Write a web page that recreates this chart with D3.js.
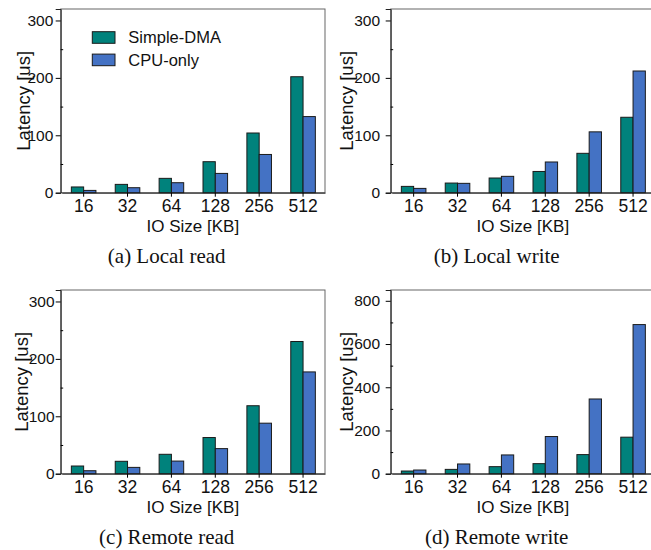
<!DOCTYPE html>
<html>
<head>
<meta charset="utf-8">
<script src="https://cdn.jsdelivr.net/npm/d3@7"></script>
<style>
  body { margin: 0; background: #fff; }
  text { font-family: "Liberation Sans", Arial, sans-serif; fill: #111; }
  .caption { font-family: "Liberation Serif", "Times New Roman", serif; }
</style>
</head>
<body>
<div id="chart"></div>
<script>
var sizes = ["16", "32", "64", "128", "256", "512"];
var seriesNames = ["Simple-DMA", "CPU-only"];

var localReadDMA = [10, 14.5, 25, 54, 104, 202];
var localReadCPU = [4, 8.7, 17.4, 33.6, 66.6, 132.6];
var localWriteDMA = [11, 16.8, 25.6, 37, 68.6, 131.4];
var localWriteCPU = [7.5, 16.3, 28.5, 53.5, 106, 212];
var remoteReadDMA = [13.4, 21.6, 33.8, 63, 118.4, 230.3];
var remoteReadCPU = [5.2, 11, 22, 43.7, 88, 177.3];
var remoteWriteDMA = [12.4, 20, 32.6, 46.5, 88.4, 169];
var remoteWriteCPU = [17, 45, 86.8, 172, 345.7, 690];

var ticksSmall = [0, 100, 200, 300];
var minorSmall = [50, 150, 250];
var ticksBig = [0, 200, 400, 600, 800];
var minorBig = [100, 300, 500, 700];

var captions = ["(a) Local read", "(b) Local write", "(c) Remote read", "(d) Remote write"];

var colors = ["#00827c", "#4472c4"];

function init() {
    var width = 651, height = 550;

    var svg = d3.select("#chart")
        .append("svg")
        .attr("width", width)
        .attr("height", height);

    var panels = [
        { left: 60.7, top: 9, dma: localReadDMA, cpu: localReadCPU, max: 320, ticks: ticksSmall, minor: minorSmall, labelOff: 30.7, tickPad: 2.4, legend: true },
        { left: 390.7, top: 9, dma: localWriteDMA, cpu: localWriteCPU, max: 320, ticks: ticksSmall, minor: minorSmall, labelOff: 37.5, tickPad: 5.7 },
        { left: 60.7, top: 290, dma: remoteReadDMA, cpu: remoteReadCPU, max: 320, ticks: ticksSmall, minor: minorSmall, labelOff: 32.4, tickPad: 1.2 },
        { left: 390.7, top: 290, dma: remoteWriteDMA, cpu: remoteWriteCPU, max: 850, ticks: ticksBig, minor: minorBig, labelOff: 37.5, tickPad: 5.7 }
    ];
    var pw = 264.3, ph = 183.7;

    panels.forEach(function (p, i) {
        var g = svg.append("g")
            .attr("transform", "translate(" + p.left + "," + p.top + ")");

        var x = d3.scaleBand()
            .domain(sizes)
            .range([1, pw])
            .paddingInner(0.44)
            .paddingOuter(0.22);

        var x1 = d3.scaleBand()
            .domain(seriesNames)
            .range([0, x.bandwidth()]);

        var y = d3.scaleLinear()
            .domain([0, p.max])
            .range([ph, 0]);

        // frame (top/right)
        g.append("rect")
            .attr("width", pw)
            .attr("height", ph)
            .style("fill", "none")
            .style("stroke", "#666")
            .style("stroke-width", 1);

        // bars
        var groups = g.selectAll(".grp")
            .data(sizes)
            .enter()
            .append("g")
            .attr("transform", function (d) { return "translate(" + x(d) + ",0)"; });

        groups.selectAll("rect")
            .data(function (d, j) { return [p.dma[j], p.cpu[j]]; })
            .enter()
            .append("rect")
            .attr("x", function (d, k) { return x1(seriesNames[k]); })
            .attr("y", function (d) { return y(d); })
            .attr("width", x1.bandwidth())
            .attr("height", function (d) { return ph - y(d); })
            .style("fill", function (d, k) { return colors[k]; })
            .style("stroke", "#1a1a1a")
            .style("stroke-width", 1);

        // y axis
        var yAxis = g.append("g")
            .call(d3.axisLeft(y).tickValues(p.ticks).tickSize(5).tickPadding(p.tickPad).tickFormat(d3.format("d")));
        yAxis.select(".domain").attr("stroke", "#222");
        yAxis.selectAll("text").style("font-size", "15.5px");

        g.append("g")
            .call(d3.axisRight(y).tickValues(p.minor).tickSize(2.5).tickFormat(""))
            .call(function (a) { a.select(".domain").remove(); });

        // x axis
        var xAxis = g.append("g")
            .attr("transform", "translate(0," + ph + ")")
            .call(d3.axisBottom(x).tickSize(4).tickPadding(3).tickSizeOuter(0));
        xAxis.select(".domain").attr("stroke", "#222");
        xAxis.selectAll("text").style("font-size", "17.5px");

        // axis titles
        g.append("text")
            .attr("x", pw / 2)
            .attr("y", ph + 39)
            .attr("text-anchor", "middle")
            .style("font-size", "17px")
            .text("IO Size [KB]");

        g.append("text")
            .attr("transform", "translate(" + (-p.labelOff) + "," + (ph / 2) + ") rotate(-90)")
            .attr("text-anchor", "middle")
            .style("font-size", "18.5px")
            .text("Latency [us]");

        // caption
        svg.append("text")
            .attr("class", "caption")
            .attr("x", p.left + 106)
            .attr("y", p.top + 254)
            .attr("text-anchor", "middle")
            .style("font-size", "21px")
            .text(captions[i]);

        if (p.legend) {
            var leg = g.selectAll(".leg")
                .data(seriesNames)
                .enter()
                .append("g")
                .attr("transform", function (d, k) { return "translate(31.6," + (22.7 + k * 22.4) + ")"; });
            leg.append("rect")
                .attr("width", 22.7)
                .attr("height", 11.6)
                .style("fill", function (d, k) { return colors[k]; })
                .style("stroke", "#1a1a1a");
            leg.append("text")
                .attr("x", 36)
                .attr("y", 5.8)
                .attr("dy", "0.35em")
                .style("font-size", "16.5px")
                .text(function (d) { return d; });
        }
    });
}

window.onload = init;
</script>
</body>
</html>
